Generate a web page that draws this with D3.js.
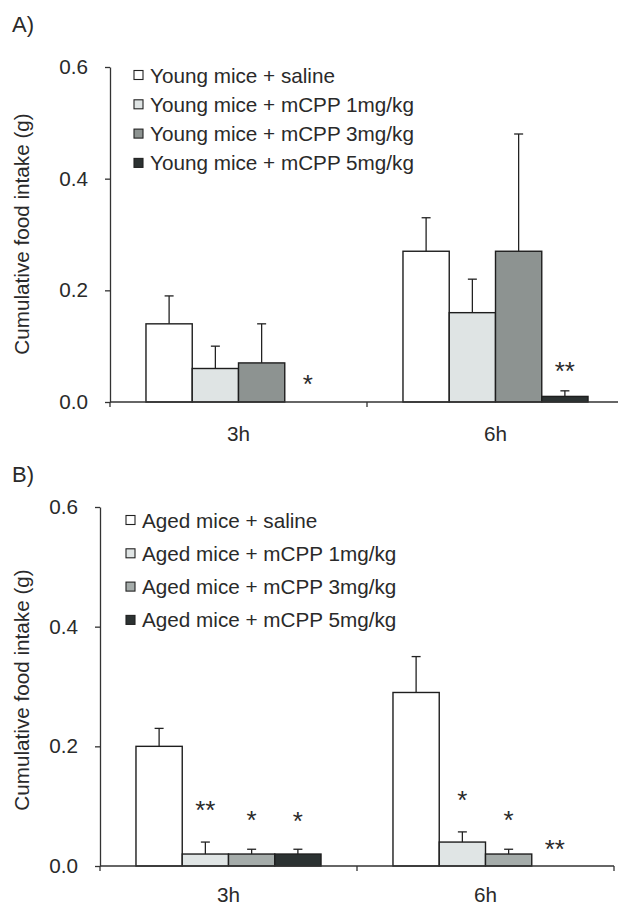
<!DOCTYPE html>
<html>
<head>
<meta charset="utf-8">
<script src="https://cdn.jsdelivr.net/npm/d3@7"></script>
<style>
  body { margin: 0; background: #fff; }
  svg { display: block; font-family: "Liberation Sans", Arial, sans-serif; }
  text { fill: #2a2a2a; }
</style>
</head>
<body>
<svg id="chart" width="618" height="907"></svg>
<script>
// Time points and treatment groups
const groups = ["3h", "6h"];
const seriesA = ["Young mice + saline", "Young mice + mCPP 1mg/kg", "Young mice + mCPP 3mg/kg", "Young mice + mCPP 5mg/kg"];
const seriesB = ["Aged mice + saline", "Aged mice + mCPP 1mg/kg", "Aged mice + mCPP 3mg/kg", "Aged mice + mCPP 5mg/kg"];
const yTicks = [0, 0.2, 0.4, 0.6];

// Means and SEM, one row per time point, one column per treatment
const meansA = [[0.14, 0.06, 0.07, 0], [0.27, 0.16, 0.27, 0.01]];
const errA   = [[0.05, 0.04, 0.07, 0], [0.06, 0.06, 0.21, 0.01]];
const meansB = [[0.20, 0.02, 0.02, 0.02], [0.29, 0.04, 0.02, 0]];
const errB   = [[0.03, 0.02, 0.008, 0.008], [0.06, 0.017, 0.008, 0]];

// Significance marks and the value where they sit
const sigA    = [["", "", "", "*"], ["", "", "", "**"]];
const sigAtA  = [[0, 0, 0, 0.043], [0, 0, 0, 0.066]];
const sigB    = [["", "**", "*", "*"], ["", "*", "*", "**"]];
const sigAtB  = [[0, 0.104, 0.087, 0.085], [0, 0.12, 0.087, 0.038]];

const svg = d3.select("#chart");
const fs = "20.7px";

function drawPanel(p) {
    const g = svg.append("g");
    const y = d3.scaleLinear().domain([0, 0.6]).range([p.y0, p.y1]);
    const x = d3.scaleBand().domain(groups).range([p.x0, p.x1])
        .paddingInner(0.28).paddingOuter(0.14);
    const xs = d3.scaleBand().domain(d3.range(p.series.length)).range([0, x.bandwidth()]);

    // panel letter
    g.append("text").attr("x", 12).attr("y", p.letterY)
        .style("font-size", "22px").text(p.letter);

    // y axis
    const yAxis = g.append("g").attr("transform", `translate(${p.x0},0)`)
        .call(d3.axisLeft(y).tickValues(yTicks).tickFormat(d3.format(".1f"))
            .tickSize(5).tickSizeOuter(0).tickPadding(17));
    yAxis.select(".domain").attr("stroke", "#333").attr("stroke-width", 1.3);
    yAxis.selectAll(".tick line").attr("stroke", "#333").attr("stroke-width", 1.3);
    yAxis.selectAll("text").style("font-size", fs).attr("fill", "#333");

    g.append("text")
        .attr("transform", `translate(29,${p.labelY}) rotate(-90)`)
        .attr("text-anchor", "middle")
        .style("font-size", fs)
        .text("Cumulative food intake (g)");

    // bars
    const data = [];
    groups.forEach((grp, i) => {
        p.series.forEach((s, j) => {
            data.push({ grp: grp, j: j, v: p.means[i][j], e: p.err[i][j], sig: p.sig[i][j], sigAt: p.sigAt[i][j] });
        });
    });

    g.selectAll("rect.bar").data(data.filter(d => d.v > 0)).join("rect")
        .attr("class", "bar")
        .attr("x", d => x(d.grp) + xs(d.j))
        .attr("y", d => y(d.v))
        .attr("width", xs.bandwidth())
        .attr("height", d => y(0) - y(d.v))
        .attr("fill", d => p.colors[d.j])
        .attr("stroke", "#1e1e1e")
        .attr("stroke-width", 1.4);

    // error bars (upper only)
    const eb = g.selectAll("g.err").data(data.filter(d => d.e > 0)).join("g").attr("class", "err");
    const cx = d => x(d.grp) + xs(d.j) + xs.bandwidth() / 2;
    eb.append("line")
        .attr("x1", cx).attr("x2", cx)
        .attr("y1", d => y(d.v)).attr("y2", d => y(d.v + d.e))
        .attr("stroke", "#222").attr("stroke-width", 1.3);
    eb.append("line")
        .attr("x1", d => cx(d) - 4.5).attr("x2", d => cx(d) + 4.5)
        .attr("y1", d => y(d.v + d.e)).attr("y2", d => y(d.v + d.e))
        .attr("stroke", "#222").attr("stroke-width", 1.3);

    // significance stars
    g.selectAll("text.sig").data(data.filter(d => d.sig)).join("text")
        .attr("class", "sig")
        .attr("x", cx)
        .attr("y", d => y(d.sigAt) + 15)
        .attr("text-anchor", "middle")
        .style("font-size", "26px")
        .attr("fill", "#333")
        .text(d => d.sig);

    // x axis
    const xa = g.append("g");
    xa.append("line").attr("x1", p.x0).attr("x2", p.x1).attr("y1", y(0)).attr("y2", y(0))
        .attr("stroke", "#333").attr("stroke-width", 1.3);
    const xTicks = [p.x0, x(groups[1]) - x.step() * 0.14, p.x1];
    xa.selectAll("line.tk").data(xTicks).join("line").attr("class", "tk")
        .attr("x1", d => d).attr("x2", d => d)
        .attr("y1", y(0)).attr("y2", y(0) + 5)
        .attr("stroke", "#333").attr("stroke-width", 1.3);
    xa.selectAll("text").data(groups).join("text")
        .attr("x", d => x(d) + x.bandwidth() / 2)
        .attr("y", p.catY)
        .attr("text-anchor", "middle")
        .style("font-size", fs)
        .text(d => d);

    // legend
    const lg = g.selectAll("g.leg").data(p.series).join("g").attr("class", "leg")
        .attr("transform", (d, i) => `translate(${p.legX},${p.legY + i * p.legStep})`);
    lg.append("rect").attr("x", 0).attr("y", -4.5).attr("width", 9).attr("height", 9)
        .attr("fill", (d, i) => p.colors[i]).attr("stroke", "#222").attr("stroke-width", 1.1);
    lg.append("text").attr("x", 16).attr("y", 7.5).style("font-size", fs).text(d => d);
}

drawPanel({
    letter: "A)", letterY: 32,
    series: seriesA, means: meansA, err: errA, sig: sigA, sigAt: sigAtA,
    x0: 110, x1: 624, y0: 402, y1: 67,
    labelY: 234, catY: 441,
    legX: 134, legY: 75, legStep: 29.3,
    colors: ["#ffffff", "#dfe4e4", "#8d9391", "#2c3232"]
});

drawPanel({
    letter: "B)", letterY: 482,
    series: seriesB, means: meansB, err: errB, sig: sigB, sigAt: sigAtB,
    x0: 100, x1: 614, y0: 866, y1: 507,
    labelY: 690, catY: 902,
    legX: 126, legY: 520, legStep: 33.3,
    colors: ["#ffffff", "#e0e5e5", "#a5acaa", "#2c3232"]
});
</script>
</body>
</html>
